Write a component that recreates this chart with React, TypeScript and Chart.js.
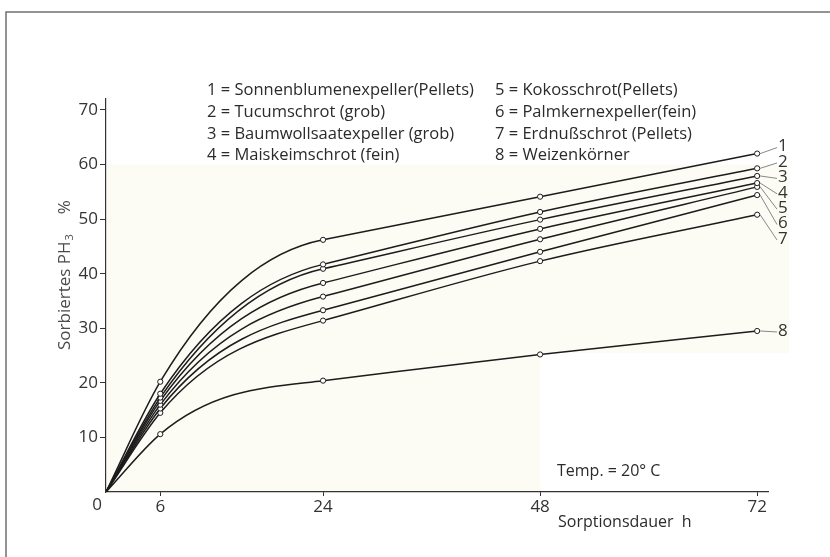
import React, { useEffect, useRef } from 'react';
import { Chart, registerables } from 'chart.js';

Chart.register(...registerables);

// ---- data ----
const HOURS = [0, 6, 24, 48, 72];
const S1 = [0, 20.2, 46.2, 54.1, 62.0];
const S2 = [0, 18.0, 41.7, 51.3, 59.3];
const S3 = [0, 17.3, 40.9, 49.9, 57.9];
const S4 = [0, 16.7, 38.3, 48.2, 56.6];
const S5 = [0, 16.0, 35.8, 46.3, 55.9];
const S6 = [0, 15.3, 33.3, 44.0, 54.4];
const S7 = [0, 14.5, 31.4, 42.3, 50.8];
const S8 = [0, 10.6, 20.4, 25.2, 29.5];
const SERIES = [S1, S2, S3, S4, S5, S6, S7, S8];
const SERIES_LABELS = ['1', '2', '3', '4', '5', '6', '7', '8'];

const LEGEND_LEFT = [
  '1 = Sonnenblumenexpeller(Pellets)',
  '2 = Tucumschrot (grob)',
  '3 = Baumwollsaatexpeller (grob)',
  '4 = Maiskeimschrot (fein)',
];
const LEGEND_RIGHT = [
  '5 = Kokosschrot(Pellets)',
  '6 = Palmkernexpeller(fein)',
  '7 = Erdnußschrot (Pellets)',
  '8 = Weizenkörner',
];

const X_TICKS = [6, 24, 48, 72];
const Y_TICKS = [10, 20, 30, 40, 50, 60, 70];
const ORIGIN_LABEL = '0';
const Y_TITLE = 'Sorbiertes PH';
const Y_TITLE_SUB = '3';
const Y_TITLE_UNIT = '%';
const X_TITLE = 'Sorptionsdauer  h';
const NOTE = 'Temp. = 20° C';

// ---- style ----
const FONT = '"Open Sans", "Liberation Sans", sans-serif';
const LINE_COLOR = '#1c1c1c';
const TEXT_COLOR = '#2b2b2b';
const TANGENT_BLEND = [0, 0.3, 1, 0.5, 1];

function applyHermite(chart: any, di: number, pts: any[]) {
  const xs = chart.scales.x;
  const ys = chart.scales.y;
  const yv = SERIES[di];
  const xv = HOURS;
  const n = yv.length;
  const d: number[] = [];
  for (let k = 0; k < n - 1; k++) d.push((yv[k + 1] - yv[k]) / (xv[k + 1] - xv[k]));
  for (let k = 0; k < n; k++) {
    let m: number;
    if (k === 0) m = d[0];
    else if (k === n - 1) m = d[n - 2];
    else {
      const w = TANGENT_BLEND[k];
      m = (1 - w) * d[k - 1] + w * d[k];
    }
    const p = pts[k];
    if (!p) continue;
    if (k > 0) {
      const h = (xv[k] - xv[k - 1]) / 3;
      p.cp1x = xs.getPixelForValue(xv[k] - h);
      p.cp1y = ys.getPixelForValue(yv[k] - m * h);
    } else {
      p.cp1x = p.x;
      p.cp1y = p.y;
    }
    if (k < n - 1) {
      const h = (xv[k + 1] - xv[k]) / 3;
      p.cp2x = xs.getPixelForValue(xv[k] + h);
      p.cp2y = ys.getPixelForValue(yv[k] + m * h);
    } else {
      p.cp2x = p.x;
      p.cp2y = p.y;
    }
  }
}

const curvePlugin = {
  id: 'hermiteCurves',
  beforeDatasetDraw(chart: any, args: any) {
    const meta = args.meta;
    const line = meta.dataset;
    if (line && typeof line.updateControlPoints === 'function') {
      line.updateControlPoints(chart.chartArea, 'x');
    }
    applyHermite(chart, args.index, meta.data);
    if (line) line._path = undefined;
  },
};

function drawYTitle(chart: any) {
  const ctx = chart.ctx;
  ctx.save();
  ctx.translate(65, 350);
  ctx.rotate(-Math.PI / 2);
  ctx.fillStyle = '#4a4a4a';
  ctx.textAlign = 'left';
  ctx.textBaseline = 'middle';
  ctx.font = `17px ${FONT}`;
  ctx.fillText(Y_TITLE, 0, 0);
  let x = ctx.measureText(Y_TITLE).width;
  ctx.font = `11px ${FONT}`;
  ctx.fillText(Y_TITLE_SUB, x + 1, 5);
  x += ctx.measureText(Y_TITLE_SUB).width + 1;
  ctx.font = `17px ${FONT}`;
  ctx.fillText(Y_TITLE_UNIT, x + 20, 0);
  ctx.restore();
}

const decorPlugin = {
  id: 'decor',
  beforeDraw(chart: any) {
    const { ctx, chartArea } = chart;
    const xs = chart.scales.x;
    const ys = chart.scales.y;
    ctx.save();
    ctx.fillStyle = '#fcfbf4';
    const top = ys.getPixelForValue(60);
    ctx.fillRect(chartArea.left + 1, top, chartArea.right + 20 - chartArea.left, chartArea.bottom - 1 - top);
    ctx.fillStyle = '#ffffff';
    const wx = xs.getPixelForValue(48);
    const wy = ys.getPixelForValue(25.5);
    ctx.fillRect(wx, wy, chart.width - wx, chartArea.bottom - 1 - wy);
    // page frame
    ctx.strokeStyle = '#707070';
    ctx.lineWidth = 1.5;
    ctx.beginPath();
    ctx.moveTo(6, chart.height);
    ctx.lineTo(6, 12);
    ctx.lineTo(chart.width, 12);
    ctx.stroke();
    ctx.restore();
  },
  afterDraw(chart: any) {
    const { ctx, chartArea } = chart;
    ctx.save();
    ctx.fillStyle = TEXT_COLOR;
    ctx.textBaseline = 'middle';
    ctx.textAlign = 'left';
    ctx.font = `16.5px ${FONT}`;
    const rows = [90, 112, 134, 155];
    LEGEND_LEFT.forEach((t, i) => ctx.fillText(t, 207, rows[i]));
    LEGEND_RIGHT.forEach((t, i) => ctx.fillText(t, 495, rows[i]));

    // note + x title
    ctx.font = `16px ${FONT}`;
    ctx.fillText(NOTE, 557, 471);
    ctx.fillText(X_TITLE, 558, 522);

    // origin label
    ctx.font = `17px ${FONT}`;
    ctx.fillStyle = '#333';
    ctx.textAlign = 'center';
    ctx.fillText(ORIGIN_LABEL, 97, 505);

    // right labels with leader lines
    const last = HOURS.length - 1;
    const first = chart.getDatasetMeta(0).data[last];
    const lx = chartArea.right + 10;
    SERIES_LABELS.forEach((lab, i) => {
      const p = chart.getDatasetMeta(i).data[last];
      if (!p || !first) return;
      const ly = i < 7 ? first.y - 7 + i * 15.4 : p.y;
      ctx.strokeStyle = '#6a6a6a';
      ctx.lineWidth = 0.8;
      ctx.beginPath();
      ctx.moveTo(p.x + 3, p.y);
      ctx.lineTo(lx - 1, ly + 1);
      ctx.stroke();
      ctx.fillStyle = '#333';
      ctx.font = `17px ${FONT}`;
      ctx.textAlign = 'left';
      ctx.fillText(lab, lx, ly);
    });
    ctx.restore();
    drawYTitle(chart);
  },
};

export default function App() {
  const ref = useRef<HTMLCanvasElement>(null);
  useEffect(() => {
    const canvas = ref.current;
    if (!canvas) return;
    const chart = new Chart(canvas, {
      type: 'line',
      data: {
        datasets: SERIES.map((s, i) => ({
          label: SERIES_LABELS[i],
          data: HOURS.map((h, j) => ({ x: h, y: s[j] })),
          borderColor: LINE_COLOR,
          borderWidth: 1.5,
          tension: 0.4,
          fill: false,
          pointRadius: (c: any) => (c.dataIndex === 0 ? 0 : 2.6),
          pointBackgroundColor: '#ffffff',
          pointBorderColor: LINE_COLOR,
          pointBorderWidth: 1,
        })),
      },
      options: {
        responsive: false,
        animation: false,
        layout: { padding: { left: 0, right: 62, top: 99, bottom: 25 } },
        plugins: { legend: { display: false }, tooltip: { enabled: false }, title: { display: false } },
        scales: {
          x: {
            type: 'linear',
            min: 0,
            max: 73.2,
            afterBuildTicks: (s: any) => {
              s.ticks = X_TICKS.map((v) => ({ value: v }));
            },
            afterFit: (s: any) => {
              s.height = 40;
            },
            grid: { display: true, drawOnChartArea: false, drawTicks: true, tickLength: 4, color: '#333', lineWidth: 1 },
            border: { display: true, color: '#333', width: 1.2 },
            ticks: { color: '#333', font: { family: FONT, size: 17 }, padding: 1, maxRotation: 0, autoSkip: false },
          },
          y: {
            type: 'linear',
            min: 0,
            max: 72,
            afterBuildTicks: (s: any) => {
              s.ticks = Y_TICKS.map((v) => ({ value: v }));
            },
            afterFit: (s: any) => {
              s.width = 106;
            },
            grid: { display: true, drawOnChartArea: false, drawTicks: true, tickLength: 6, color: '#333', lineWidth: 1 },
            border: { display: true, color: '#333', width: 1.2 },
            ticks: { color: '#333', font: { family: FONT, size: 17 }, padding: 2, autoSkip: false },
          },
        },
      },
      plugins: [curvePlugin, decorPlugin],
    } as any);
    return () => chart.destroy();
  }, []);
  return (
    <div style={{ position: 'absolute', left: 0, top: 0, width: 830, height: 557 }}>
      <canvas ref={ref} width={830} height={557} style={{ display: 'block', width: 830, height: 557 }} />
    </div>
  );
}
